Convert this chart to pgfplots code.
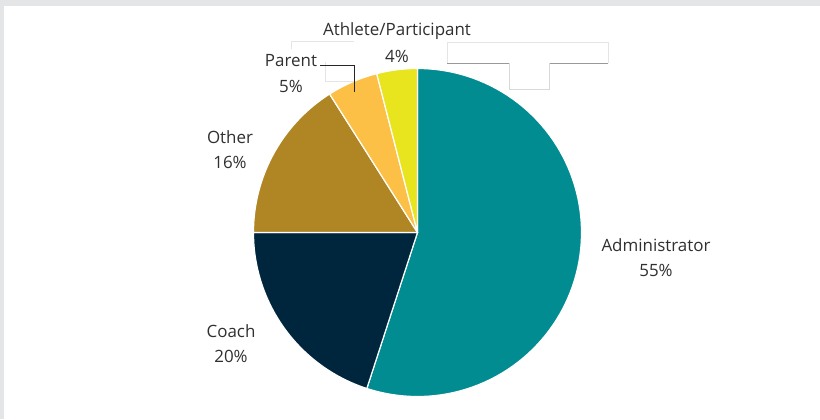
\documentclass[border=0pt]{standalone}
\usepackage{pgfplots}
\pgfplotsset{compat=1.18}
\usepackage{fontspec}
\setmainfont{Open Sans}
\definecolor{cAdmin}{HTML}{008C90}
\definecolor{cCoach}{HTML}{00263E}
\definecolor{cOther}{HTML}{B08624}
\definecolor{cParent}{HTML}{FDC046}
\definecolor{cAthlete}{HTML}{E8E41E}
\definecolor{bggray}{HTML}{E4E5E7}
\definecolor{txt}{HTML}{303030}
\def\cx{417.5}\def\cy{232.5}\def\R{164}
% slice: start (cumulative %), value (%), colour
\newcommand{\pieslice}[3]{%
  \pgfmathsetmacro\angA{90-3.6*(#1)}%
  \pgfmathsetmacro\angB{90-3.6*((#1)+(#2))}%
  \edef\doslice{\noexpand\addplot[fill=#3, draw=white, line width=1.2pt, line join=round, domain=\angB:\angA, samples=90]
    ({\cx+\R*cos(x)}, {\cy-\R*sin(x)}) -- (axis cs:\cx,\cy) -- cycle;}%
  \doslice
}
\tikzset{lab/.style={text=txt, font=\fontsize{17}{20}\selectfont, inner sep=0pt}}
\begin{document}
\begin{tikzpicture}
\begin{axis}[
  scale only axis, width=820bp, height=419bp,
  xmin=0, xmax=820, ymin=0, ymax=419, y dir=reverse,
  hide axis, clip=false,
]
\fill[bggray] (axis cs:0,0) rectangle (axis cs:820,419);
\fill[white] (axis cs:4,6) rectangle (axis cs:820,419);
% data: Administrator 55, Coach 20, Other 16, Parent 5, Athlete/Participant 4
\pieslice{0}{55}{cAdmin}
\pieslice{55}{20}{cCoach}
\pieslice{75}{16}{cOther}
\pieslice{91}{5}{cParent}
\pieslice{96}{4}{cAthlete}
% faint leftover boxes
\draw[black!10, line width=0.8pt] (axis cs:291,49) -- (axis cs:291,41) -- (axis cs:354,41);
\draw[black!10, line width=0.8pt] (axis cs:325,62) -- (axis cs:325,81) -- (axis cs:354,81);
\draw[black!10, line width=0.8pt] (axis cs:447,63) -- (axis cs:447,42) -- (axis cs:608,42) -- (axis cs:608,63);
\draw[black!40, line width=0.8pt] (axis cs:447,63) -- (axis cs:509,63);
\draw[black!40, line width=0.8pt] (axis cs:549,63) -- (axis cs:608,63);
\draw[black!15, line width=0.8pt] (axis cs:509,63) -- (axis cs:509,89) -- (axis cs:549,89) -- (axis cs:549,63);
% leader line
\draw[black!85, line width=0.9pt] (axis cs:320,65) -- (axis cs:354,65) -- (axis cs:354,92);
% labels
\node[lab] at (axis cs:397,31) {Athlete/Participant};
\node[lab] at (axis cs:397,56.5) {4\%};
\node[lab] at (axis cs:291,61) {Parent};
\node[lab] at (axis cs:291,86) {5\%};
\node[lab] at (axis cs:230,137.5) {Other};
\node[lab] at (axis cs:230,162.5) {16\%};
\node[lab] at (axis cs:656,245) {Administrator};
\node[lab] at (axis cs:656,270.5) {55\%};
\node[lab] at (axis cs:231,331.5) {Coach};
\node[lab] at (axis cs:231,356.5) {20\%};
\end{axis}
\end{tikzpicture}
\end{document}
